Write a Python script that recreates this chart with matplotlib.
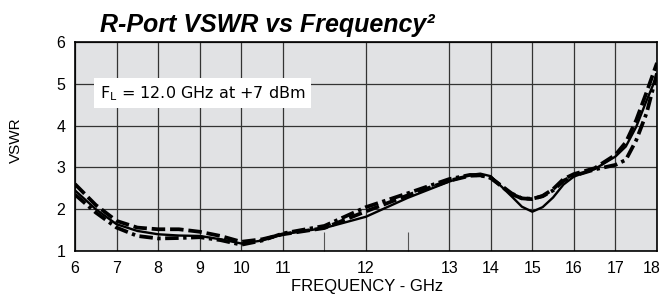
import numpy as np
import matplotlib
matplotlib.use("Agg")
import matplotlib.pyplot as plt
import matplotlib.transforms as mtransforms

plt.rcParams['font.family'] = ['Liberation Sans', 'DejaVu Sans']
plt.rcParams['mathtext.fontset'] = 'custom'
plt.rcParams['mathtext.rm'] = 'DejaVu Sans'
plt.rcParams['mathtext.it'] = 'DejaVu Sans:italic'

# frequency axis of the datasheet is not uniform: 11-13 GHz is stretched x2
tick_ghz = [6, 7, 8, 9, 10, 11, 12, 13, 14, 15, 16, 17, 18]
tick_col = [0, 1, 2, 3, 4, 5, 7, 9, 10, 11, 12, 13, 14]
half_ticks = [11.5, 12.5]

freq = [6, 6.5, 7, 7.5, 8, 8.5, 9, 9.5, 10, 10.5, 11, 11.5, 12, 12.5, 13,
        13.5, 13.75, 14, 14.5, 14.75, 15, 15.25, 15.5, 15.75, 16, 16.5, 17,
        17.25, 17.5, 17.75, 18]
vswr_solid = [2.45, 2.0, 1.64, 1.48, 1.40, 1.37, 1.36, 1.28, 1.18, 1.25, 1.40,
              1.55, 1.82, 2.27, 2.66, 2.82, 2.85, 2.79, 2.31, 2.06, 1.94, 2.05,
              2.28, 2.59, 2.78, 2.96, 3.26, 3.50, 3.97, 4.60, 5.20]
vswr_dash = [2.60, 2.10, 1.72, 1.56, 1.52, 1.52, 1.46, 1.36, 1.22, 1.28, 1.40,
             1.55, 1.95, 2.33, 2.68, 2.80, 2.81, 2.75, 2.38, 2.26, 2.24, 2.32,
             2.48, 2.72, 2.84, 2.98, 3.30, 3.60, 4.13, 4.80, 5.50]
vswr_dashdot = [2.35, 1.92, 1.56, 1.36, 1.30, 1.31, 1.33, 1.26, 1.15, 1.25, 1.42,
                1.60, 2.05, 2.38, 2.72, 2.82, 2.81, 2.75, 2.36, 2.26, 2.25, 2.31,
                2.45, 2.68, 2.80, 2.95, 3.06, 3.18, 3.65, 4.30, 5.25]


def fwd(f):
    return np.interp(f, tick_ghz, tick_col)


def inv(c):
    return np.interp(c, tick_col, tick_ghz)


fig = plt.figure(figsize=(6.64, 2.94), dpi=100)
ax = fig.add_axes([75 / 664, 1 - 251 / 294, 582 / 664, 209 / 294])
ax.set_facecolor('#e1e2e4')
ax.set_xscale('function', functions=(fwd, inv))

ax.plot(freq, vswr_dash, color='black', lw=2.7, ls=(0, (3.6, 1.3)), zorder=3)
ax.plot(freq, vswr_dashdot, color='black', lw=2.7, ls=(0, (3.6, 1.2, 0.9, 1.2)), zorder=3)
ax.plot(freq, vswr_solid, color='black', lw=1.7, zorder=4)

ax.set_xlim(6, 18)
ax.set_ylim(1, 6)
ax.set_xticks(tick_ghz)
ax.set_xticks(half_ticks, minor=True)
ax.set_yticks([1, 2, 3, 4, 5, 6])
ax.tick_params(axis='both', which='major', length=0, labelsize=11.5, pad=7)
ax.tick_params(axis='x', which='minor', direction='in', length=14, width=0.8, color='#555555')
ax.grid(True, which='major', color='#333333', lw=0.9)
ax.set_axisbelow(True)
for s in ax.spines.values():
    s.set_color('black')
    s.set_linewidth(1.2)

# last frequency label sits on the figure edge, pull it in a little
fig.canvas.draw()
last = ax.get_xticklabels()[-1]
last.set_transform(last.get_transform() + mtransforms.ScaledTranslation(-5 / 100, 0, fig.dpi_scale_trans))

ax.text(0.043, 0.755, r'F$_\mathrm{L}$ = 12.0 GHz at +7 dBm', transform=ax.transAxes,
        fontsize=11.5, family='DejaVu Sans', ha='left', va='center',
        bbox=dict(facecolor='white', edgecolor='none', pad=4))

fig.text(100 / 664, 1 - 32 / 294, 'R-Port VSWR vs Frequency\u00b2', fontsize=18,
         fontweight='bold', fontstyle='italic', ha='left', va='baseline')
fig.text(367 / 664, 1 - 286 / 294, 'FREQUENCY - GHz', fontsize=12, ha='center', va='center')
fig.text(16 / 664, 1 - 140 / 294, 'VSWR', fontsize=11, rotation=90, ha='center', va='center')

fig.savefig('out.png', dpi=100)
